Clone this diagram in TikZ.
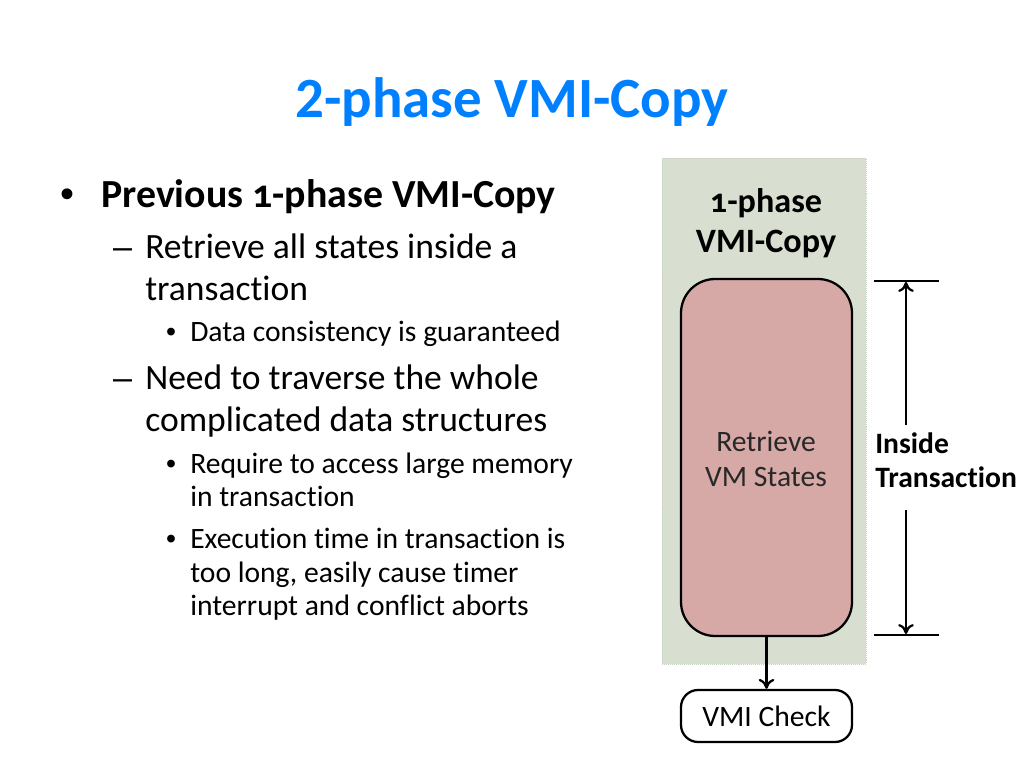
\documentclass[tikz,border=0pt]{standalone}
\usepackage{fontspec}
\setmainfont{Carlito}[Ligatures=NoCommon]
\newfontfamily\markfont{Liberation Sans}
\usetikzlibrary{arrows.meta}
\definecolor{titleblue}{RGB}{0,128,255}
\definecolor{panelgreen}{RGB}{216,222,208}
\definecolor{paneledge}{RGB}{196,210,196}
\definecolor{statepink}{RGB}{214,168,166}
\definecolor{labelgray}{RGB}{40,40,40}
\tikzset{
  txt/.style={anchor=base west, inner sep=0pt, font=\fontsize{25}{29}\selectfont},
  small/.style={txt, font=\fontsize{20.8}{25}\selectfont},
  bulletmark/.style={anchor=base, inner sep=0pt},
  centred/.style={anchor=base, inner sep=0pt},
  box/.style={draw, line width=1.6pt, rounded corners=12pt},
  arr/.style={line width=1.6pt, -{To[length=7pt, width=11pt, line width=1.6pt]}}
}
\begin{document}
\begin{tikzpicture}[x=0.703pt, y=-0.703pt]
        \useasboundingbox (0, 0) rectangle (1024, 768);
        % title
        \node[centred, text=titleblue, font=\fontsize{40}{48}\selectfont\bfseries] (title) at (512, 117) {2-phase VMI-Copy};
        % bullet list
        \node[bulletmark, font=\markfont\fontsize{28}{32}\selectfont] (b1) at (67, 207) {•};
        \node[txt, font=\fontsize{28}{32}\selectfont\bfseries\addfontfeatures{Numbers=OldStyle}] (prev) at (101, 207) {Previous 1-phase VMI-Copy};
        \node[bulletmark, font=\markfont\fontsize{24}{28}\selectfont] (d1) at (122.5, 258) {–};
        \node[txt] (ret1) at (145, 258) {Retrieve all states inside a};
        \node[txt] (ret2) at (145, 300) {transaction};
        \node[bulletmark, font=\markfont\fontsize{20}{24}\selectfont] (b2) at (171, 341) {•};
        \node[small] (cons) at (190, 341) {Data consistency is guaranteed};
        \node[bulletmark, font=\markfont\fontsize{24}{28}\selectfont] (d2) at (122.5, 389) {–};
        \node[txt] (need1) at (145, 389) {Need to traverse the whole};
        \node[txt] (need2) at (145, 431) {complicated data structures};
        \node[bulletmark, font=\markfont\fontsize{20}{24}\selectfont] (b3) at (171, 473) {•};
        \node[small] (req1) at (190, 473) {Require to access large memory};
        \node[small] (req2) at (190, 506) {in transaction};
        \node[bulletmark, font=\markfont\fontsize{20}{24}\selectfont] (b4) at (171, 548) {•};
        \node[small] (exe1) at (190, 548) {Execution time in transaction is};
        \node[small] (exe2) at (190, 582) {too long, easily cause timer};
        \node[small] (exe3) at (190, 615) {interrupt and conflict aborts};
        % 1-phase panel
        \fill[panelgreen] (662, 158) rectangle (866, 664);
        \draw[paneledge, densely dotted] (662, 158) rectangle (866, 664);
        \node[centred, font=\fontsize{24}{28}\selectfont\bfseries\addfontfeatures{Numbers=OldStyle}] (ph1) at (766, 212) {1-phase};
        \node[centred, font=\fontsize{24}{28}\selectfont\bfseries] (ph2) at (766, 252) {VMI-Copy};
        \node[box, fill=statepink, rounded corners=24pt, minimum width=171*0.703pt, minimum height=357*0.703pt] (states) at (766.5, 457.5) {};
        \node[centred, text=labelgray, font=\fontsize{20.8}{25}\selectfont] (st1) at (766, 451) {Retrieve};
        \node[centred, text=labelgray, font=\fontsize{20.8}{25}\selectfont] (st2) at (766, 486) {VM States};
        \node[box, fill=white, minimum width=171*0.703pt, minimum height=52*0.703pt, font=\fontsize{20.8}{25}\selectfont] (check) at (766.5, 716) {VMI Check};
        \draw[arr] (states) -- (check);
        % transaction span
        \coordinate (topL) at (874, 281);
        \coordinate (topR) at (939, 281);
        \coordinate (botL) at (874, 635);
        \coordinate (botR) at (939, 635);
        \coordinate (topA) at (906, 282);
        \coordinate (botA) at (906, 634);
        \coordinate (gapT) at (906, 425);
        \coordinate (gapB) at (906, 510);
        \draw[line width=1.6pt] (topL) -- (topR);
        \draw[line width=1.6pt] (botL) -- (botR);
        \draw[arr] (gapT) -- (topA);
        \draw[arr] (gapB) -- (botA);
        \node[txt, font=\fontsize{20.8}{25}\selectfont\bfseries] (ins1) at (875, 453) {Inside};
        \node[txt, font=\fontsize{20.8}{25}\selectfont\bfseries] (ins2) at (875, 487) {Transaction};
\end{tikzpicture}
\end{document}
